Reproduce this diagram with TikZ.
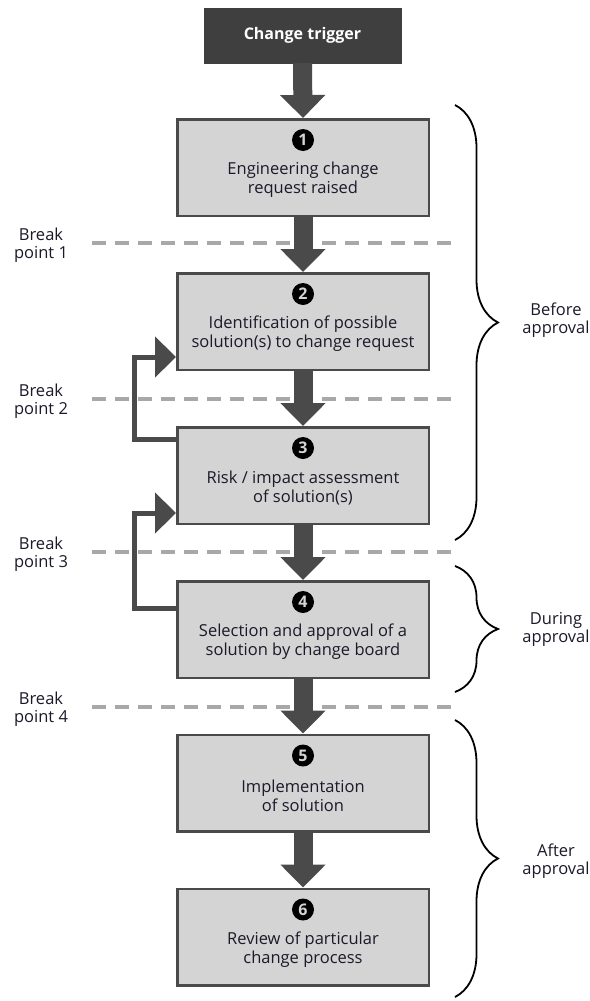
\documentclass[tikz,border=0pt]{standalone}
\usepackage{fontspec}
\setmainfont{Open Sans}
\usetikzlibrary{arrows.meta,calc,decorations.pathreplacing}
\definecolor{dk}{HTML}{4A4A4A}
\definecolor{trig}{HTML}{3F3F3F}
\definecolor{boxfill}{HTML}{D4D4D4}
\definecolor{dash}{HTML}{A8A8A8}
\definecolor{ink}{HTML}{1A1A2A}
\begin{document}
\begin{tikzpicture}[x=1pt,y=-1pt,
  trigbox/.style={draw=trig,fill=trig,minimum width=197,minimum height=55,inner sep=0,text=white,font=\fontsize{16}{18}\selectfont\bfseries},
  stepbox/.style={draw=dk,line width=2.5,fill=boxfill,minimum width=251.5,minimum height=96.5,inner sep=0},
  num/.style={circle,fill=black,text=boxfill,inner sep=0,minimum size=22,font=\fontsize{16}{16}\selectfont\bfseries},
  txt/.style={align=center,font=\fontsize{16.5}{19}\selectfont,text=ink},
  lbl/.style={align=center,font=\fontsize{16.5}{18}\selectfont,text=ink},
  fat/.style={draw=dk,line width=19,-{Triangle[width=44,length=23]},color=dk},
  loopline/.style={draw=dk,line width=5,-{Triangle[width=40,length=21]},color=dk},
  brk/.style={draw=dash,line width=3.5,dash pattern=on 14 off 9},
  brc/.style={draw=black,line width=1.8,decorate,decoration={brace,amplitude=43}}
]
\useasboundingbox (0,0) rectangle (589,1001);
% break lines
\foreach \y/\n in {243/1,399/2,552/3,707/4}{
  \coordinate (bs\n) at (92,\y);
  \coordinate (be\n) at (460,\y);
  \draw[brk] (bs\n) -- (be\n);
  \node[lbl] (bl\n) at (41,\y+2) {Break\\point \n};
}
% nodes
\node[trigbox] (t) at (302.5,35.5) {Change trigger};
\node[stepbox] (b1) at (303,167.5) {};
\node[stepbox] (b2) at (303,321.5) {};
\node[stepbox] (b3) at (303,475.5) {};
\node[stepbox] (b4) at (303,629.5) {};
\node[stepbox] (b5) at (303,783) {};
\node[stepbox] (b6) at (303,937) {};
% arrows
\draw[fat] (t.south) -- (b1.north);
\draw[fat] (b1.south) -- (b2.north);
\draw[fat] (b2.south) -- (b3.north);
\draw[fat] (b3.south) -- (b4.north);
\draw[fat] (b4.south) -- (b5.north);
\draw[fat] (b5.south) -- (b6.north);
% feedback loops
\coordinate (l1s) at ($(b3.north west)+(0,13)$);
\coordinate (l1e) at ($(b2.south west)+(0,-14)$);
\draw[loopline] (l1s) -- ++(-42,0) |- (l1e);
\coordinate (l2s) at ($(b4.north west)+(0,28)$);
\coordinate (l2e) at ($(b3.south west)+(0,-12)$);
\draw[loopline] (l2s) -- ++(-42,0) |- (l2e);
% numbers and texts
\foreach \i/\t in {1/{Engineering change\\request raised},
                   2/{Identification of possible\\solution(s) to change request},
                   3/{Risk / impact assessment\\of solution(s)},
                   4/{Selection and approval of a\\solution by change board},
                   5/{Implementation\\of solution},
                   6/{Review of particular\\change process}}{
  \node[num] (n\i) at ($(b\i.north)+(0,22)$) {\i};
  \node[txt] (x\i) at ($(b\i.north)+(0,62)$) {\t};
}
% braces
\coordinate (r1a) at (455,105);
\coordinate (r1b) at (455,540);
\coordinate (r2a) at (455,566);
\coordinate (r2b) at (455,692);
\coordinate (r3a) at (455,720);
\coordinate (r3b) at (455,997);
\draw[brc] (r1a) -- (r1b);
\draw[brc] (r2a) -- (r2b);
\draw[brc] (r3a) -- (r3b);
\node[lbl] (p1) at (556,320) {Before\\approval};
\node[lbl] (p2) at (556,629) {During\\approval};
\node[lbl] (p3) at (556,861) {After\\approval};
\end{tikzpicture}
\end{document}
